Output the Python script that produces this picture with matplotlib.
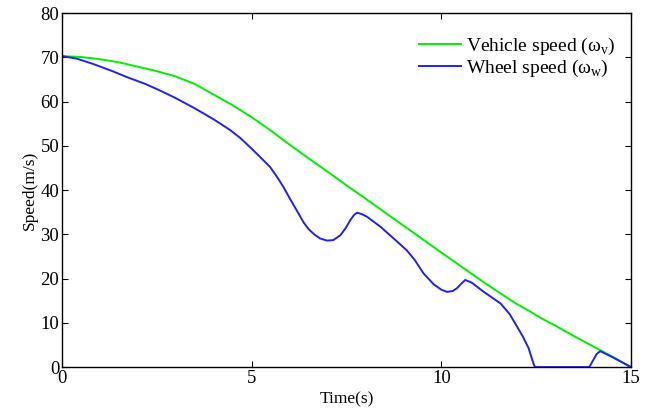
import matplotlib
matplotlib.use("Agg")
import matplotlib.pyplot as plt

plt.rcParams["font.family"] = ["Liberation Serif", "DejaVu Serif"]
plt.rcParams["mathtext.fontset"] = "custom"
plt.rcParams["mathtext.rm"] = "Liberation Serif"

# vehicle speed (green)
t_vehicle = [0, 0.5, 1, 1.5, 2, 2.5, 3, 3.5, 4, 4.5, 5, 5.5, 6, 6.5, 7, 7.5, 8,
             9, 10, 11, 11.5, 12, 12.3, 12.6, 13, 13.5, 14, 14.5, 15]
v_vehicle = [70.3, 70.1, 69.6, 68.9, 67.9, 66.9, 65.7, 64.0, 61.6, 59.2, 56.5,
             53.5, 50.3, 47.2, 44.2, 41.1, 38.1, 32.0, 25.9, 19.9, 17.0, 14.2,
             12.8, 11.2, 9.4, 7.0, 4.7, 2.4, 0.0]

# wheel speed (blue)
t_wheel = [0, 0.4, 0.83, 1.3, 1.7, 2.2, 2.59, 3.0, 3.5, 4.0, 4.43, 4.7, 4.96,
           5.2, 5.49, 5.7, 5.84, 6.0, 6.19, 6.37, 6.5, 6.65, 6.8, 6.98, 7.15,
           7.34, 7.47, 7.6, 7.7, 7.78, 7.9, 8.04, 8.4, 8.74, 9.09, 9.3, 9.53,
           9.8, 10.0, 10.15, 10.3, 10.41, 10.52, 10.63, 10.8, 11.12, 11.56,
           11.8, 12.0, 12.15, 12.3, 12.43, 12.47, 13.0, 13.5, 13.9, 14.0, 14.1,
           14.19, 14.5, 15]
v_wheel = [70.3, 69.7, 68.5, 67.0, 65.6, 64.0, 62.5, 60.8, 58.5, 56.0, 53.6,
           51.8, 49.7, 47.7, 45.2, 42.6, 40.7, 38.2, 35.4, 32.7, 31.2, 30.0,
           29.1, 28.6, 28.7, 29.8, 31.3, 33.2, 34.4, 34.9, 34.6, 34.0, 31.7,
           29.1, 26.4, 24.2, 21.2, 18.7, 17.5, 17.0, 17.2, 17.8, 18.8, 19.7,
           19.1, 17.0, 14.4, 12.0, 9.1, 6.9, 4.3, 0.8, 0.0, 0.0, 0.0, 0.0, 1.5,
           3.0, 3.6, 2.3, 0.0]

fig = plt.figure(figsize=(6.59, 4.12), dpi=100)
ax = fig.add_axes([0.094, 0.109, 0.8635, 0.859])

ax.plot(t_vehicle, v_vehicle, color="#00ee00", lw=1.4,
        label="Vehicle speed (ω$_{\\rm v}$)")
ax.plot(t_wheel, v_wheel, color="#2020ff", lw=1.4,
        label="Wheel speed (ω$_{\\rm w}$)")

ax.set_xlim(0, 15)
ax.set_ylim(0, 80)
ax.set_xticks([0, 5, 10, 15])
ax.set_yticks(range(0, 81, 10))

ax.tick_params(direction="in", top=True, right=True, length=4, width=0.8,
               labelsize=13.5, pad=2)
for s in ax.spines.values():
    s.set_linewidth(1.0)

ax.set_xlabel("Time(s)", fontsize=12.5, labelpad=3)
ax.set_ylabel("Speed(m/s)", fontsize=12.5, labelpad=2)

ax.legend(loc="upper right", frameon=False, fontsize=14,
          handlelength=2.15, handletextpad=0.3, labelspacing=0.05,
          bbox_to_anchor=(1.004, 0.985))

fig.savefig("out.png", dpi=100)
